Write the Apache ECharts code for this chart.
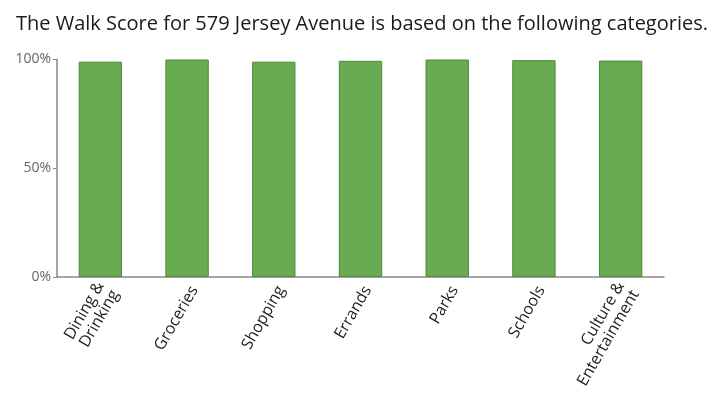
<!DOCTYPE html>
<html><head><meta charset="utf-8">
<script src="https://cdn.jsdelivr.net/npm/echarts@6/dist/echarts.min.js"></script>
<style>html,body{margin:0;padding:0;background:#fff}#c{width:727px;height:400px}</style>
</head><body><div id="c"></div>
<script>
const titleText = "The Walk Score for 579 Jersey Avenue is based on the following categories.";
const categories = ["Dining &\nDrinking", "Groceries", "Shopping", "Errands", "Parks", "Schools", "Culture &\nEntertainment"];
const scores = [99, 100, 99, 99.4, 100, 99.7, 99.5];
const yTicks = [0, 50, 100];

const chart = echarts.init(document.getElementById('c'));
chart.setOption({
  animation: false,
  title: {
    text: titleText, left: 11, top: 9,
    textStyle: { fontFamily: "Open Sans", fontSize: 20, fontWeight: 'normal', color: '#1a1a1a' }
  },
  grid: { left: 57, right: 63, top: 59.5, bottom: 123 },
  xAxis: {
    type: 'category', data: categories,
    axisLine: { lineStyle: { color: '#888', width: 1.5 } },
    axisTick: { show: false },
    axisLabel: { rotate: 60, fontFamily: "Open Sans", fontSize: 16, color: '#222', margin: 6, lineHeight: 17, interval: 0,
      verticalAlign: 'middle', formatter: v => '\n' + v }
  },
  yAxis: {
    type: 'value', min: 0, max: 100, interval: 50,
    axisLine: { show: true, lineStyle: { color: '#888', width: 1.5 } },
    axisTick: { show: true, length: 4, lineStyle: { color: '#888' } },
    splitLine: { show: false },
    axisLabel: { fontFamily: "Open Sans", fontSize: 14, color: '#666', margin: 6,
      formatter: v => yTicks.includes(v) ? v + '%' : '' }
  },
  series: [{
    type: 'bar', data: scores, barWidth: '50%',
    itemStyle: { color: '#68ab50', borderColor: '#4e8a3b', borderWidth: 1 }
  }]
});
</script></body></html>
